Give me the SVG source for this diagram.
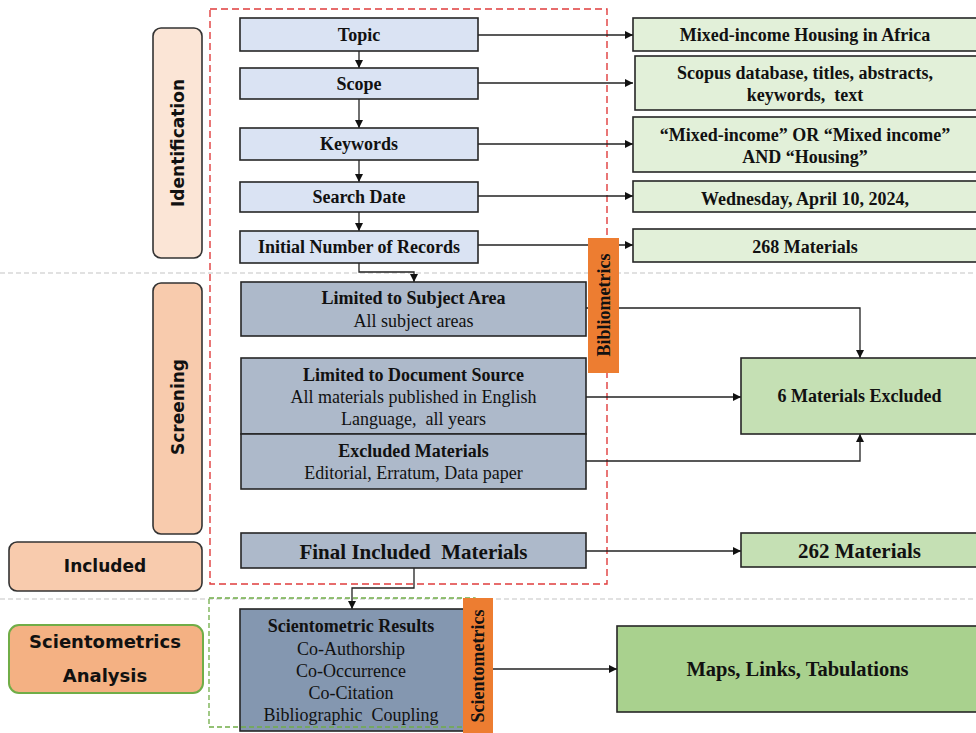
<svg xmlns="http://www.w3.org/2000/svg" width="976" height="733" viewBox="0 0 976 733">
<defs>
<marker id="arr" markerUnits="userSpaceOnUse" markerWidth="9" markerHeight="9" refX="8" refY="4" orient="auto">
<path d="M0,0 L8,4 L0,8 z" fill="#111"/>
</marker>
<style>
.sep{stroke:#c4c4c4;stroke-width:1.2;stroke-dasharray:5 3;fill:none}
.phase{stroke:#333;stroke-width:1.6}
.pt{font-family:"DejaVu Sans",sans-serif;font-weight:bold;font-size:17px;fill:#111;text-anchor:middle}
.b1{fill:#dae3f3;stroke:#262626;stroke-width:1.6}
.g1{fill:#e2f0d9;stroke:#262626;stroke-width:1.6}
.b2{fill:#adb9ca;stroke:#262626;stroke-width:1.6}
.b3{fill:#8497b0;stroke:#262626;stroke-width:1.6}
.g2{fill:#c5e0b4;stroke:#262626;stroke-width:1.6}
.g3{fill:#a9d18e;stroke:#262626;stroke-width:1.6}
.or{fill:#ed7d31}
.t{font-family:"Liberation Serif",serif;font-size:18px;fill:#111;text-anchor:middle}
.tb{font-weight:bold}
.c{fill:none;stroke:#222;stroke-width:1.3}
</style>
</defs>

<line class="sep" x1="0" y1="273" x2="976" y2="273"/>
<line class="sep" x1="0" y1="599" x2="976" y2="599"/>

<g id="phase-identification">
<rect class="phase" x="153" y="28" width="49" height="230" rx="8" fill="#fbe5d6"/>
<text class="pt" transform="translate(177.5,143) rotate(-90)" x="0" y="6">Identification</text>
</g>
<g id="phase-screening">
<rect class="phase" x="153" y="283" width="49" height="251" rx="8" fill="#f8cbad"/>
<text class="pt" transform="translate(177.5,407) rotate(-90)" x="0" y="6">Screening</text>
</g>
<g id="phase-included">
<rect class="phase" x="9" y="542" width="193" height="49" rx="8" fill="#f8cbad"/>
<text class="pt" x="105" y="572">Included</text>
</g>
<g id="phase-scientometrics">
<rect x="9" y="625" width="194" height="68" rx="10" fill="#f4b183" stroke="#70ad47" stroke-width="2"/>
<text class="pt" x="105" y="648" style="font-size:18px">Scientometrics</text>
<text class="pt" x="105" y="682" style="font-size:18px">Analysis</text>
</g>

<rect id="bibliometrics-region" x="210" y="9" width="397" height="575" fill="none" stroke="#e03c3c" stroke-width="1.4" stroke-dasharray="7 4"/>

<g id="connectors">
<path class="c" d="M359,51 V68" marker-end="url(#arr)"/>
<path class="c" d="M359,99 V128" marker-end="url(#arr)"/>
<path class="c" d="M359,160 V182" marker-end="url(#arr)"/>
<path class="c" d="M359,212 V231" marker-end="url(#arr)"/>
<path class="c" d="M359,263 V272 H414 V282" marker-end="url(#arr)"/>
<path class="c" d="M478,35 H633" marker-end="url(#arr)"/>
<path class="c" d="M478,83 H633" marker-end="url(#arr)"/>
<path class="c" d="M478,144 H633" marker-end="url(#arr)"/>
<path class="c" d="M478,196 H633" marker-end="url(#arr)"/>
<path class="c" d="M478,245 H633" marker-end="url(#arr)"/>
<path class="c" d="M586,308 H860 V358" marker-end="url(#arr)"/>
<path class="c" d="M586,397 H741" marker-end="url(#arr)"/>
<path class="c" d="M586,461 H860 V434" marker-end="url(#arr)"/>
<path class="c" d="M586,551 H741" marker-end="url(#arr)"/>
<path class="c" d="M414,568 V588 H352 V609" marker-end="url(#arr)"/>
<path class="c" d="M493,669 H617" marker-end="url(#arr)"/>
</g>

<g id="topic">
<rect class="b1" x="240" y="18" width="238" height="33"/>
<text class="t tb" x="359" y="41">Topic</text>
</g>
<g id="scope">
<rect class="b1" x="240" y="68" width="238" height="31"/>
<text class="t tb" x="359" y="90">Scope</text>
</g>
<g id="keywords">
<rect class="b1" x="240" y="128" width="238" height="32"/>
<text class="t tb" x="359" y="150">Keywords</text>
</g>
<g id="search-date">
<rect class="b1" x="240" y="182" width="238" height="30"/>
<text class="t tb" x="359" y="203">Search Date</text>
</g>
<g id="initial-records">
<rect class="b1" x="240" y="231" width="238" height="32"/>
<text class="t tb" x="359" y="253">Initial Number of Records</text>
</g>

<g id="topic-value">
<rect class="g1" x="633" y="18" width="345" height="33"/>
<text class="t tb" x="805" y="41">Mixed-income Housing in Africa</text>
</g>
<g id="scope-value">
<rect class="g1" x="635" y="56" width="343" height="54"/>
<text class="t tb" x="805" y="79">Scopus database, titles, abstracts,</text>
<text class="t tb" x="805" y="101" xml:space="preserve">keywords,  text</text>
</g>
<g id="keywords-value">
<rect class="g1" x="633" y="117" width="345" height="55"/>
<text class="t tb" x="805" y="141">“Mixed-income” OR “Mixed income”</text>
<text class="t tb" x="805" y="163">AND “Housing”</text>
</g>
<g id="date-value">
<rect class="g1" x="633" y="181" width="345" height="31"/>
<text class="t tb" x="805" y="205">Wednesday, April 10, 2024,</text>
</g>
<g id="records-value">
<rect class="g1" x="633" y="229" width="345" height="33"/>
<text class="t tb" x="805" y="253">268 Materials</text>
</g>

<g id="limited-subject">
<rect class="b2" x="241" y="282" width="345" height="54"/>
<text class="t tb" x="413.5" y="304">Limited to Subject Area</text>
<text class="t" x="413.5" y="327">All subject areas</text>
</g>
<g id="limited-source">
<rect class="b2" x="241" y="358" width="345" height="76"/>
<text class="t tb" x="413.5" y="381">Limited to Document Source</text>
<text class="t" x="413.5" y="403">All materials published in English</text>
<text class="t" x="413.5" y="425" xml:space="preserve">Language,  all years</text>
</g>
<g id="excluded-materials">
<rect class="b2" x="241" y="434" width="345" height="55"/>
<text class="t tb" x="413.5" y="457">Excluded Materials</text>
<text class="t" x="413.5" y="479">Editorial, Erratum, Data paper</text>
</g>
<g id="final-included">
<rect class="b2" x="241" y="533" width="345" height="35"/>
<text class="t tb" x="413.5" y="559" style="font-size:21px" xml:space="preserve">Final Included  Materials</text>
</g>

<g id="excluded-count">
<rect class="g2" x="741" y="358" width="237" height="76"/>
<text class="t tb" x="859.5" y="402">6 Materials Excluded</text>
</g>
<g id="included-count">
<rect class="g2" x="741" y="533" width="237" height="34"/>
<text class="t tb" x="859.5" y="558" style="font-size:21px">262 Materials</text>
</g>

<g id="bibliometrics">
<rect class="or" x="588" y="238" width="31" height="135"/>
<text class="t tb" transform="translate(603.5,305) rotate(-90)" x="0" y="6">Bibliometrics</text>
</g>

<g id="scientometric-results">
<rect class="b3" x="240" y="609" width="224" height="122"/>
<text class="t tb" x="351" y="632">Scientometric Results</text>
<text class="t" x="351" y="655">Co-Authorship</text>
<text class="t" x="351" y="677">Co-Occurrence</text>
<text class="t" x="351" y="699">Co-Citation</text>
<text class="t" x="351" y="721" xml:space="preserve">Bibliographic  Coupling</text>
</g>
<rect id="scientometrics-region" x="209" y="598" width="266" height="129" fill="none" stroke="#70ad47" stroke-width="1.3" stroke-dasharray="5 3"/>
<g id="scientometrics">
<rect class="or" x="463" y="598" width="30" height="140"/>
<text class="t tb" transform="translate(478,666) rotate(-90)" x="0" y="6">Scientometrics</text>
</g>

<g id="maps">
<rect class="g3" x="617" y="626" width="361" height="86"/>
<text class="t tb" x="797.5" y="676" style="font-size:20.5px">Maps, Links, Tabulations</text>
</g>
</svg>
